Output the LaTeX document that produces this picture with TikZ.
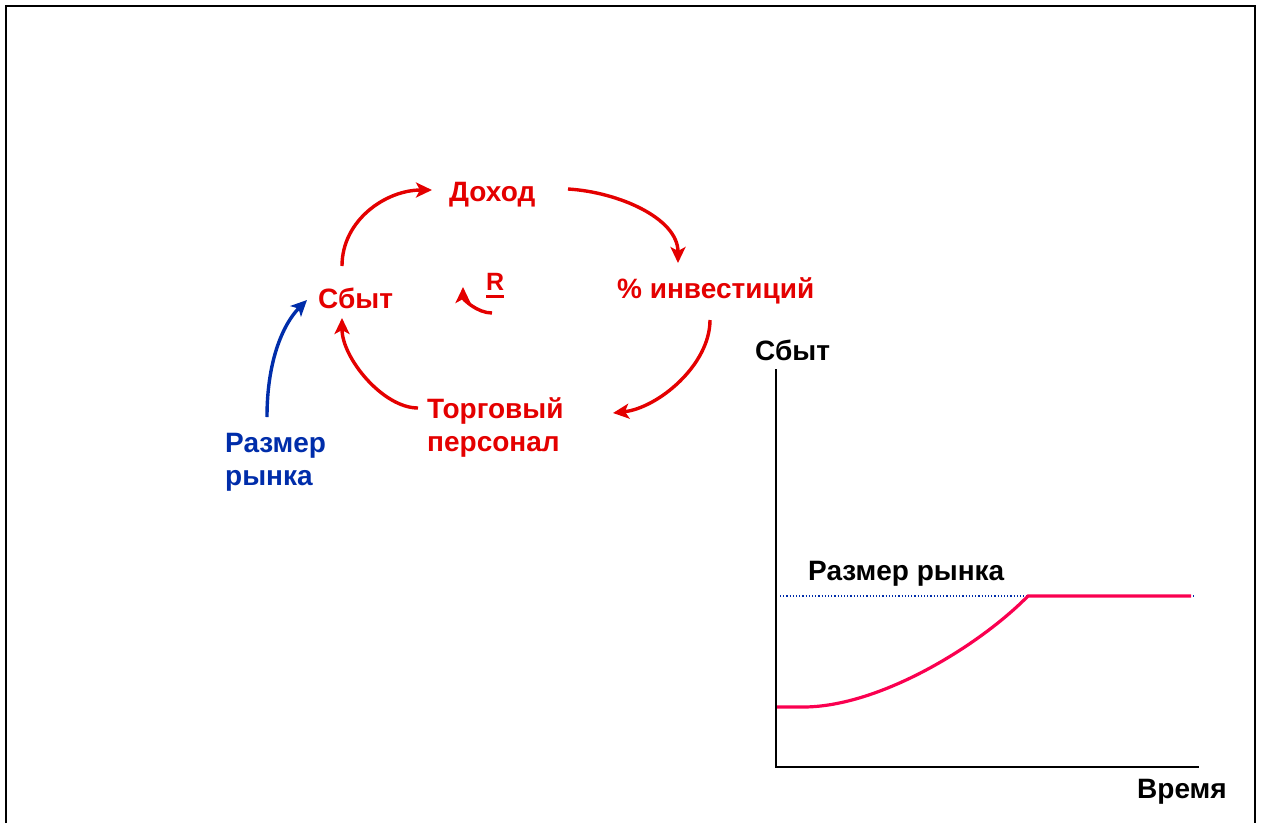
\documentclass[tikz,border=0pt]{standalone}
\usepackage{fontspec}
\setmainfont{Liberation Sans}
\usetikzlibrary{arrows.meta}
\definecolor{cred}{RGB}{228,0,0}
\definecolor{cblue}{RGB}{0,45,170}
\definecolor{cpink}{RGB}{250,0,80}
\newcommand{\thickul}[1]{\setbox0\hbox{#1}\copy0\llap{\rule[-8pt]{\wd0}{2.6pt}}}
\begin{document}
\begin{tikzpicture}[x=1pt,y=-1pt,
  lab/.style={inner sep=0pt, anchor=base west, font=\bfseries\fontsize{28}{33}\selectfont},
  redlab/.style={lab, text=cred},
  multilab/.style={inner sep=0pt, anchor=north west, align=left, font=\bfseries\fontsize{28}{33}\selectfont},
  arr/.style={line width=3.4pt, -{Stealth[length=16pt,width=15pt,inset=4pt]}},
  redarr/.style={arr, draw=cred},
  bluearr/.style={arr, draw=cblue},
  axis/.style={line width=2.4pt},
]
\path[use as bounding box] (0,0) rectangle (1264,823);
\draw[line width=2.2pt] (6,823) -- (6,6) -- (1255,6) -- (1255,823);

% causal loop
\node[redlab] (dohod) at (449,201) {Доход};
\node[redlab] (invest) at (617,298) {\% инвестиций};
\node[redlab] (sbyt) at (318,308) {Сбыт};
\node[multilab, text=cred] (torg) at (427,397) {Торговый\\персонал};
\node[multilab, text=cblue] (rynok) at (225,433) {Размер\\рынка};
\node[inner sep=0pt, anchor=base west, text=cred, font=\bfseries\fontsize{25}{28}\selectfont] (R) at (486,290) {\color{cred}\thickul{R}};

\draw[redarr] ([xshift=24pt,yshift=42pt]sbyt.base west) .. controls +(0,-46) and +(-46,0) .. ([xshift=-17pt,yshift=11pt]dohod.base west);
\draw[redarr] ([xshift=119pt,yshift=12pt]dohod.base west) .. controls +(50,3) and +(0,-45) .. ([xshift=61pt,yshift=35pt]invest.base west);
\draw[redarr] ([xshift=93pt,yshift=-22pt]invest.base west) .. controls +(0,45) and +(45,-5) .. ([xshift=186pt,yshift=-16pt]torg.north west);
\draw[redarr] ([xshift=-9pt,yshift=-11pt]torg.north west) .. controls +(-35,0) and +(0,40) .. ([xshift=24pt,yshift=-10pt]sbyt.base west);
\draw[redarr] ([xshift=6pt,yshift=-23pt]R.base west) .. controls +(-15,0) and +(0,12) .. ([xshift=-23pt,yshift=3pt]R.base west);
\draw[bluearr] ([xshift=42pt,yshift=16pt]rynok.north west) .. controls +(0,-60) and +(-22,22) .. ([xshift=-11pt,yshift=8pt]sbyt.base west);

% graph
\coordinate (o) at (776,767);
\coordinate (ytop) at (776,369);
\coordinate (xend) at (1199,767);
\draw[axis] (ytop) -- (o) -- (xend);
\node[lab] (ylab) at (755,360) {Сбыт};
\node[lab] (xlab) at (1137,798) {Время};
\node[lab, font=\bfseries\fontsize{28}{32}\selectfont] (mlab) at (808,580) {Размер рынка};
\coordinate (m0) at (780,596);
\coordinate (m1) at (1194,596);
\draw[cblue, line width=1.2pt, dotted] (m0) -- (m1);
\coordinate (c0) at (777,707);
\coordinate (c1) at (803,707);
\coordinate (c2) at (1028,596);
\coordinate (c3) at (1191,596);
\draw[cpink, line width=3.2pt] (c0) -- (c1) .. controls (880,707) and (980,645) .. (c2) -- (c3);
\end{tikzpicture}
\end{document}
